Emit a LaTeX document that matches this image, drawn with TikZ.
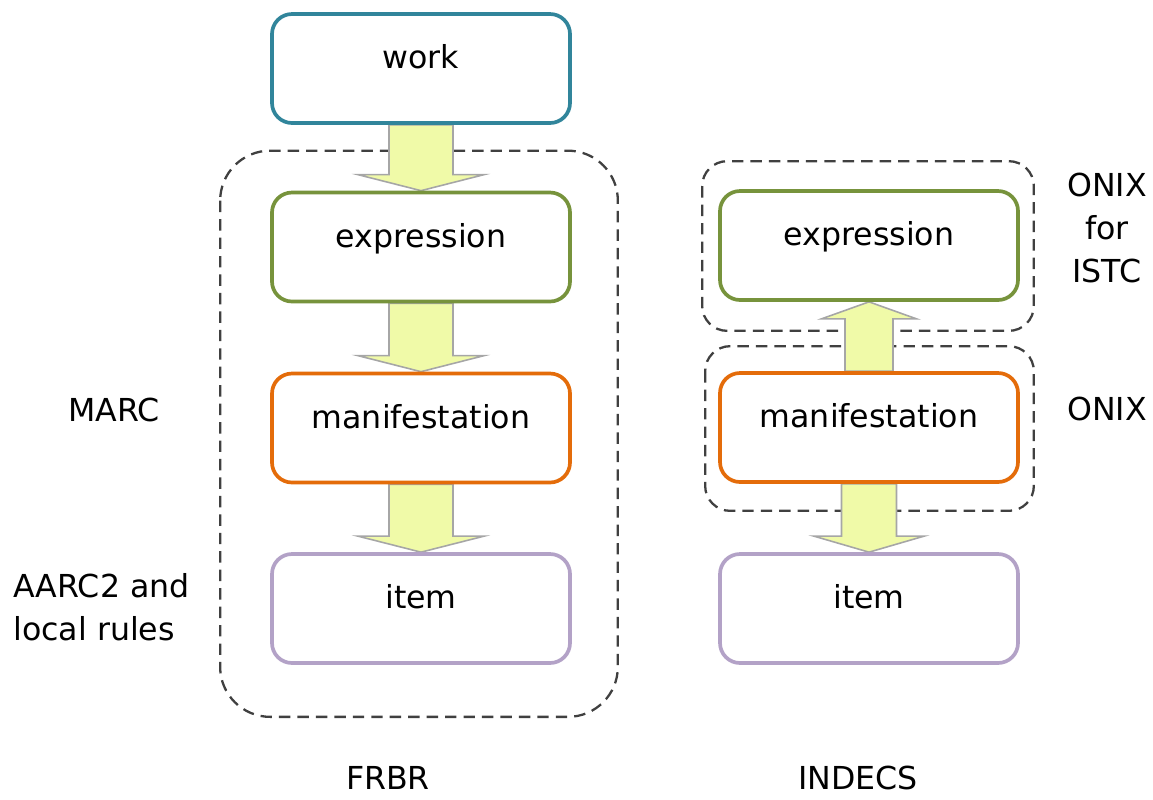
\documentclass[tikz,border=0pt]{standalone}
\usepackage{fontspec}
\setmainfont{DejaVu Sans}
\usetikzlibrary{calc,backgrounds}

\definecolor{workblue}{RGB}{49,133,155}
\definecolor{exprgreen}{RGB}{119,147,60}
\definecolor{maniorange}{RGB}{228,108,10}
\definecolor{itemlilac}{RGB}{179,162,199}
\definecolor{arrowfill}{RGB}{240,250,168}
\definecolor{arrowline}{RGB}{166,166,166}
\definecolor{dashgray}{RGB}{64,64,64}

% block arrow: from, to, half shaft, half head, head length (negative = upward)
\newcommand{\fatarrow}[5]{%
  \draw[fat] ($(#1)+(-#3,0)$) -- ($(#2)+(-#3,#5)$) -- ($(#2)+(-#4,#5)$) -- (#2)
    -- ($(#2)+(#4,#5)$) -- ($(#2)+(#3,#5)$) -- ($(#1)+(#3,0)$) -- cycle;}

\begin{document}
\begin{tikzpicture}[
    entity/.style={draw, rectangle, rounded corners=0.4cm, line width=2.1pt, fill=white,
        minimum width=5.96cm, minimum height=2.18cm, text height=0.45cm, text depth=0.45cm,
        font=\fontsize{18}{24.5}\selectfont},
    fat/.style={fill=arrowfill, draw=arrowline, line width=0.9pt, line join=miter},
    group/.style={draw=dashgray, dash pattern=on 6.5pt off 4pt, line width=1.3pt},
    tag/.style={font=\fontsize{18}{24.5}\selectfont, inner sep=0pt}
]
    \useasboundingbox (0,0) rectangle (23.06,-15.98);

    % FRBR
    \node[entity, draw=workblue] (work) at (8.42,-1.37) {work};
    \node[entity, draw=exprgreen] (lexpr) at (8.42,-4.94) {expression};
    \node[entity, draw=maniorange] (lman) at (8.42,-8.56) {manifestation};
    \node[entity, draw=itemlilac] (litem) at (8.42,-12.17) {item};

    % INDECS
    \node[entity, draw=exprgreen] (rexpr) at (17.38,-4.91) {expression};
    \node[entity, draw=maniorange] (rman) at (17.38,-8.55) {manifestation};
    \node[entity, draw=itemlilac] (ritem) at (17.38,-12.17) {item};

    \begin{scope}[on background layer]
        \draw[group, rounded corners=1cm] ($(lexpr.north west)+(-1.0,0.8)$) rectangle ($(litem.south east)+(0.92,-1.04)$);
        \draw[group, rounded corners=0.5cm] ($(rexpr.north west)+(-0.32,0.56)$) rectangle ($(rexpr.south east)+(0.28,-0.58)$);
        \draw[group, rounded corners=0.5cm] ($(rman.north west)+(-0.26,0.5)$) rectangle ($(rman.south east)+(0.28,-0.54)$);

        \fatarrow{work.south}{lexpr.north}{0.64}{1.26}{0.32}
        \fatarrow{lexpr.south}{lman.north}{0.64}{1.26}{0.32}
        \fatarrow{lman.south}{litem.north}{0.64}{1.26}{0.32}
        \fatarrow{rman.north}{rexpr.south}{0.48}{0.95}{-0.34}
        \fatarrow{rman.south}{ritem.north}{0.55}{1.1}{0.32}
    \end{scope}

    \node[tag] (marc) at (2.28,-8.2) {MARC};
    \node[tag, align=left, anchor=west] (aarc) at (0.26,-12.14) {AARC2 and\\local rules};
    \node[tag, align=center] (istc) at (22.14,-4.56) {ONIX\\for\\ISTC};
    \node[tag] (onix) at (22.14,-8.18) {ONIX};
    \node[tag] (frbr) at (7.76,-15.56) {FRBR};
    \node[tag] (indecs) at (17.16,-15.56) {INDECS};
\end{tikzpicture}
\end{document}
